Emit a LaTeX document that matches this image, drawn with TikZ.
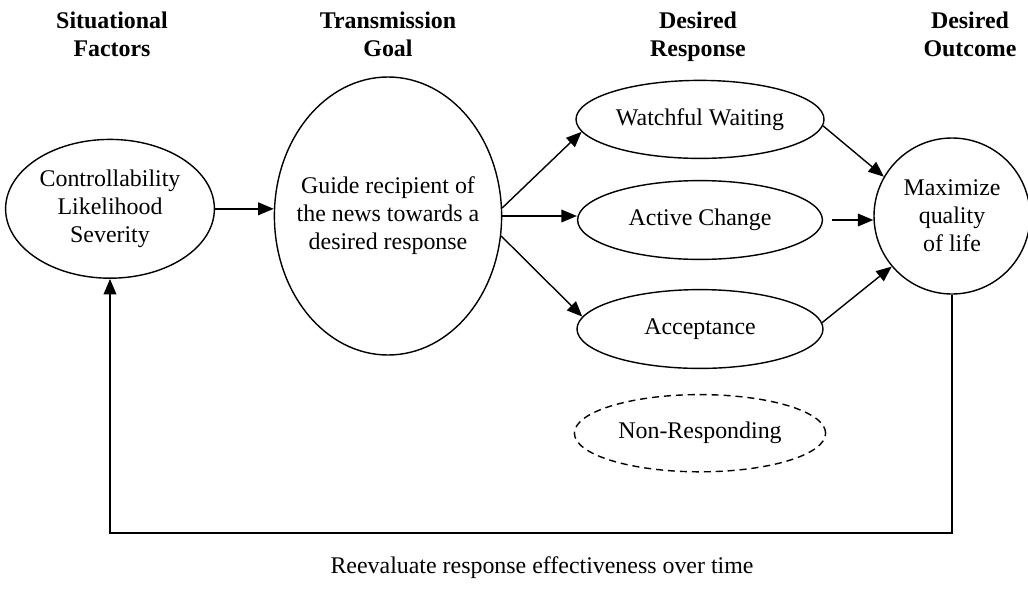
\documentclass[tikz,border=0pt]{standalone}
\usepackage{fontspec}
\setmainfont{Liberation Serif}
\usetikzlibrary{arrows.meta, positioning, shapes.geometric}

\begin{document}
\begin{tikzpicture}[
        node distance=0.6cm and 0.8cm,
        % Styles
        every node/.style={font=\fontsize{17}{20}\selectfont},
        oval/.style={ellipse, draw, line width=1pt, inner sep=0pt, align=center},
        header/.style={align=center, anchor=north, inner sep=0pt, font=\fontsize{17}{20}\selectfont\bfseries},
        line/.style={draw, line width=1pt, -{Triangle[length=11pt, width=9pt]}}
    ]
        \useasboundingbox (0,0) rectangle (25.7,-14.75);

        % Headers
        \node [header] (hdfactors) at (2.8,-0.3) {Situational\\Factors};
        \node [header] (hdgoal) at (9.7,-0.3) {Transmission\\Goal};
        \node [header] (hdresp) at (17.45,-0.3) {Desired\\Response};
        \node [header] (hdout) at (24.25,-0.3) {Desired\\Outcome};

        % Nodes
        \node [oval, minimum width=5.22cm, minimum height=3.47cm] (factors) at (2.75,-5.22) {Controllability\\Likelihood\\Severity};
        \node [oval, inner xsep=-18pt, minimum width=5.68cm, minimum height=6.95cm] (goal) at (9.7,-5.4) {Guide recipient of\\the news towards a\\desired response};

        \node [oval, minimum width=6.12cm, minimum height=1.97cm] (active) at (17.5,-5.5) {Active Change};
        \node [oval, minimum width=6.2cm, minimum height=1.95cm, above=0.52cm of active] (watch) {Watchful Waiting};
        \node [oval, minimum width=6.15cm, minimum height=1.97cm, below=0.72cm of active] (accept) {Acceptance};
        \node [oval, dash pattern=on 5pt off 3.5pt, minimum width=6.28cm, minimum height=1.93cm, below=0.62cm of accept] (nonresp) {Non-Responding};

        \node [oval, circle, minimum size=3.9cm] (outcome) at (23.8,-5.4) {Maximize\\quality\\of life};

        \node (note) at (13.55,-14.2) {Reevaluate response effectiveness over time};
        \coordinate (loop) at (0,-13.325);

        % Paths
        \path [line] (factors.east) -- (factors.east -| goal.west);
        \path [line] (goal.4) -- (watch.186);
        \path [line] (goal.east) -- (goal.east -| active.west);
        \path [line] (goal.-10) -- (accept.174);

        \path [line] (watch.-3) -- (outcome.150);
        \path [line, shorten <=6pt] (active.east) -- (active.east -| outcome.west);
        \path [line] (accept.3) -- (outcome.220);

        % Feedback loop
        \path [line] (outcome.south) |- (loop -| factors.south) -- (factors.south);
    \end{tikzpicture}
\end{document}
